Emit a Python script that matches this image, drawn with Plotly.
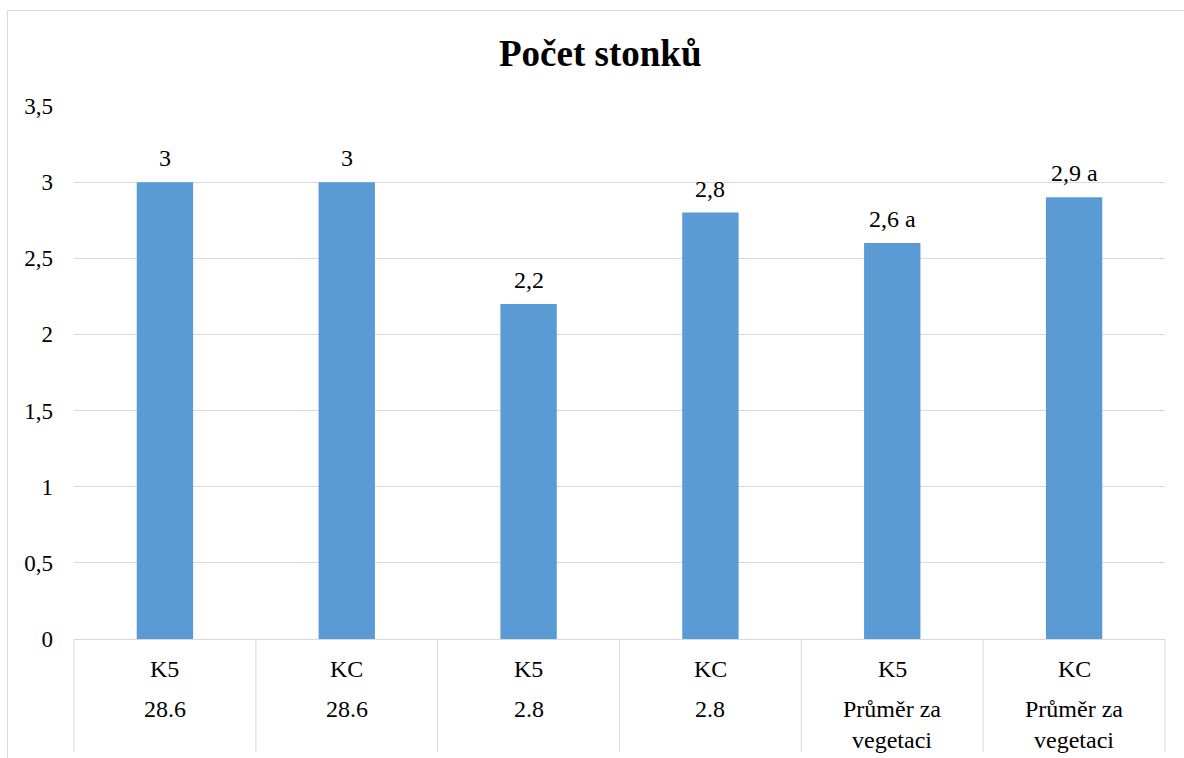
import plotly.graph_objects as go

# Data
groups = ["K5", "KC", "K5", "KC", "K5", "KC"]
periods = ["28.6", "28.6", "2.8", "2.8", "Průměr za<br>vegetaci", "Průměr za<br>vegetaci"]
stems = [3.0, 3.0, 2.2, 2.8, 2.6, 2.9]
letters = ["", "", "", "", " a", " a"]
y_ticks = [0, 0.5, 1, 1.5, 2, 2.5, 3, 3.5]

W, H = 1184, 758
ML, MR, MT, MB = 74, 19, 106, 119
PW, PH = W - ML - MR, H - MT - MB

FONT = "Liberation Serif"
BAR = "#5B9BD5"
GRID = "#d9d9d9"

def px_x(px):
    return (px - ML) / PW

def px_y(py):
    return (H - MB - py) / PH

def fmt(v):
    return ("%g" % v).replace(".", ",")

xs = list(range(len(stems)))

fig = go.Figure()
fig.add_trace(go.Bar(
    x=xs, y=stems, width=0.31,
    marker=dict(color=BAR, line=dict(width=0)),
    hoverinfo="skip",
))

annotations = []
# value labels above bars
for i, v in enumerate(stems):
    annotations.append(dict(
        x=i, y=v, xref="x", yref="y", text=fmt(v) + letters[i],
        showarrow=False, yanchor="bottom", yshift=9,
        font=dict(family=FONT, size=24, color="#000"),
    ))
# category labels under the axis
for i in xs:
    annotations.append(dict(
        x=i, y=px_y(654), xref="x", yref="paper", text=groups[i],
        showarrow=False, yanchor="top",
        font=dict(family=FONT, size=24, color="#000"),
    ))
    annotations.append(dict(
        x=i, y=px_y(694), xref="x", yref="paper", text=periods[i],
        showarrow=False, yanchor="top",
        font=dict(family=FONT, size=24, color="#000"),
    ))
# chart title
annotations.append(dict(
    x=px_x(600), y=px_y(54), xref="paper", yref="paper",
    text="<b>Počet stonků</b>", showarrow=False,
    xanchor="center", yanchor="middle",
    font=dict(family=FONT, size=37, color="#000"),
))

shapes = []
# category dividers below the axis
n = len(stems)
for k in range(n + 1):
    xp = k / n
    shapes.append(dict(
        type="line", xref="paper", yref="paper",
        x0=xp, x1=xp, y0=0, y1=px_y(752),
        line=dict(color=GRID, width=1),
    ))
# outer chart border
shapes.append(dict(
    type="rect", xref="paper", yref="paper",
    x0=px_x(7.5), x1=px_x(1195), y0=px_y(10.5), y1=px_y(775),
    line=dict(color=GRID, width=1), fillcolor="rgba(0,0,0,0)",
))

fig.update_layout(
    width=W, height=H,
    margin=dict(l=ML, r=MR, t=MT, b=MB, pad=0),
    paper_bgcolor="white", plot_bgcolor="white",
    separators=", ",
    showlegend=False,
    annotations=annotations,
    shapes=shapes,
    xaxis=dict(
        range=[-0.5, n - 0.5], showticklabels=False, showgrid=False,
        zeroline=False, showline=True, linecolor=GRID, linewidth=1,
        ticks="", fixedrange=True,
    ),
    yaxis=dict(
        range=[0, 3.5], tickvals=y_ticks, showgrid=True, gridcolor=GRID,
        gridwidth=1, zeroline=False, showline=False, ticks="",
        ticklabelstandoff=20,
        tickfont=dict(family=FONT, size=23, color="#000"),
        fixedrange=True,
    ),
    font=dict(family=FONT),
)

fig.write_html("out.html")
